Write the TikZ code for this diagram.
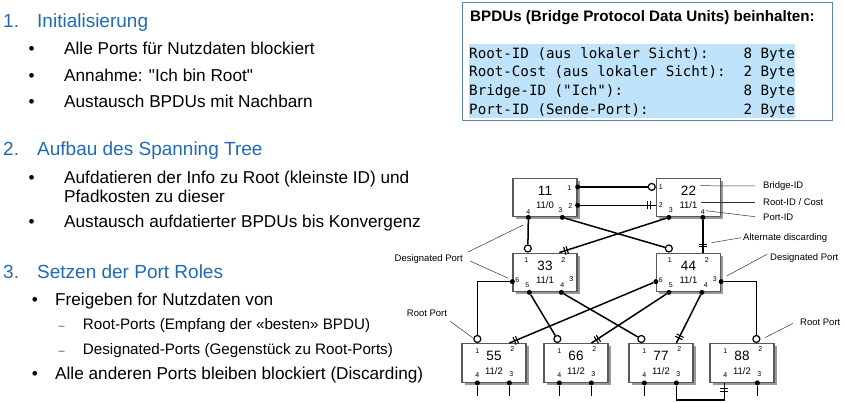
\documentclass[tikz,border=0pt]{standalone}
\usepackage{fontspec}
\setmainfont{Liberation Sans}
\newfontfamily\bpdufont{DejaVu Sans Mono}
\usetikzlibrary{calc,shadows,decorations.markings}
\definecolor{headblue}{RGB}{31,106,178}
\definecolor{boxframe}{RGB}{96,132,172}
\definecolor{rowblue}{RGB}{190,227,251}
\def\fs#1{\fontsize{#1}{#1}\selectfont}

\tikzset{
	head/.style={anchor=base west, inner sep=0pt, font=\fs{19}, text=headblue},
	txt/.style={anchor=base west, inner sep=0pt, font=\fs{17.2}},
	sub/.style={anchor=base west, inner sep=0pt, font=\fs{15.2}},
	blt/.style={anchor=base, inner sep=0pt, font=\fs{17.2}},
	swbox/.style={draw=black!65, line width=1.3pt, fill=white, minimum width=64pt, minimum height=38.5pt, inner sep=0pt,
		drop shadow={shadow xshift=2.5pt, shadow yshift=-2.5pt, fill=black!40, opacity=1}},
	swid/.style={inner sep=0pt, font=\fs{13.5}, text height=0.72em, text depth=0pt},
	swcost/.style={inner sep=0pt, font=\fs{9.5}, text height=0.72em, text depth=0pt},
	portno/.style={inner sep=0pt, font=\fs{7}, text height=0.72em, text depth=0pt},
	dport/.style={circle, fill=black, inner sep=0pt, minimum size=5pt},
	rport/.style={circle, draw=black, fill=white, line width=1.2pt, inner sep=0pt, minimum size=7pt},
	link/.style={line width=1.5pt},
	blocked/.style={postaction={decorate}, decoration={markings, mark=at position -7pt with
		{\draw[line width=1.1pt] (-1.3pt,-4pt) -- (-1.3pt,4pt) (1.3pt,-4pt) -- (1.3pt,4pt);}}},
	note/.style={inner sep=0pt, font=\fs{9.5}},
	noteline/.style={line width=0.5pt, black!80},
}

\begin{document}
\begin{tikzpicture}[x=1pt, y=-1pt]
		%%%%% START %%%%%
		\useasboundingbox (0,0) rectangle (844,403);
		
		% text on the left
		\node[head] (n1) at (3,27.5) {1.};
		\node[head] (h1) at (37,27.5) {Initialisierung};
		\node[blt] (b1a) at (31.7,55) {•};
		\node[txt] (t1a) at (64,55) {Alle Ports für Nutzdaten blockiert};
		\node[blt] (b1b) at (31.7,81.5) {•};
		\node[txt] (t1b) at (64,81.5) {Annahme: \textquotedbl Ich bin Root\textquotedbl};
		\node[blt] (b1c) at (31.7,107.5) {•};
		\node[txt] (t1c) at (64,107.5) {Austausch BPDUs mit Nachbarn};
		
		\node[head] (n2) at (3,156) {2.};
		\node[head] (h2) at (37,156) {Aufbau des Spanning Tree};
		\node[blt] (b2a) at (31.7,183.5) {•};
		\node[txt] (t2a) at (64,183.5) {Aufdatieren der Info zu Root (kleinste ID) und};
		\node[txt] (t2b) at (64,202.5) {Pfadkosten zu dieser};
		\node[blt] (b2c) at (31.7,227.7) {•};
		\node[txt] (t2c) at (64,227.7) {Austausch aufdatierter BPDUs bis Konvergenz};
		
		\node[head] (n3) at (3,278.3) {3.};
		\node[head] (h3) at (37,278.3) {Setzen der Port Roles};
		\node[blt] (b3a) at (35,305.7) {•};
		\node[txt] (t3a) at (55,305.7) {Freigeben for Nutzdaten von};
		\node[blt, font=\fs{11}, text=black!70] (d3a) at (61.7,330) {–};
		\node[sub] (t3b) at (82.7,330) {Root-Ports (Empfang der «besten» BPDU)};
		\node[blt, font=\fs{11}, text=black!70] (d3b) at (61.7,354.3) {–};
		\node[sub] (t3c) at (82.7,354.3) {Designated-Ports (Gegenstück zu Root-Ports)};
		\node[blt] (b3d) at (35,380) {•};
		\node[txt] (t3d) at (55,380) {Alle anderen Ports bleiben blockiert (Discarding)};
		
		% BPDU contents
		\draw[boxframe, line width=1pt, fill=white] (462,3) rectangle (832,121);
		\node[anchor=base west, inner sep=0pt, font=\fs{15.2}\bfseries] (bpdu) at (470,21.7) {BPDUs (Bridge Protocol Data Units) beinhalten:};
		\foreach \i/\lab/\val in {0/{Root-ID (aus lokaler Sicht):}/8, 1/{Root-Cost (aus lokaler Sicht):}/2,
				2/{Bridge-ID ("Ich"):}/8, 3/{Port-ID (Sende-Port):}/2} {
			\fill[rowblue] (469,{44+18.5*\i}) rectangle (795,{62.5+18.5*\i});
			\node[anchor=base west, inner sep=0pt, font=\fs{14.2}\bpdufont] (f\i) at (469,{58.3+18.6*\i}) {\lab};
			\node[anchor=base east, inner sep=0pt, font=\fs{14.2}\bpdufont] (v\i) at (795,{58.3+18.6*\i}) {\val\ Byte};
		}
		
		% switches
		\node[swbox] (s11) at (545,197.5) {};
		\node[swbox] (s22) at (688.5,197.5) {};
		\node[swbox] (s33) at (545,272.5) {};
		\node[swbox] (s44) at (688.5,272.5) {};
		\node[swbox] (s55) at (494,363) {};
		\node[swbox] (s66) at (576,363) {};
		\node[swbox] (s77) at (661,363) {};
		\node[swbox] (s88) at (742,363) {};
		
		\foreach \s/\c in {11/0, 22/1, 33/1, 44/1, 55/2, 66/2, 77/2, 88/2} {
			\node[swid] (id\s) at ($(s\s)+(0,-6)$) {\s};
			\node[swcost] (cost\s) at ($(s\s)+(0,7.5)$) {11/\c};
		}
		
		% port numbers
		\foreach \n/\dx/\dy in {1/57/9, 2/58/27, 3/48/31, 4/16/33}
			\node[portno] (n11p\n) at ($(s11.north west)+(\dx,\dy)$) {\n};
		\foreach \n/\dx/\dy in {1/5/8, 2/5/26, 3/15/31, 4/47/33}
			\node[portno] (n22p\n) at ($(s22.north west)+(\dx,\dy)$) {\n};
		\foreach \n/\dx/\dy in {1/14/6, 2/51/6, 3/59/25, 4/50/31, 5/15/31, 6/5/26} {
			\node[portno] (n33p\n) at ($(s33.north west)+(\dx,\dy)$) {\n};
			\node[portno] (n44p\n) at ($(s44.north west)+(\dx,\dy)$) {\n};
		}
		\foreach \s in {55,66,77,88}
			\foreach \n/\dx/\dy in {1/16/7, 2/51/5, 3/50/30, 4/16/31}
				\node[portno] (n\s p\n) at ($(s\s.north west)+(\dx,\dy)$) {\n};
		
		% ports
		\node[dport] (s11p1) at ($(s11.north east)+(0,9.3)$) {};
		\node[dport] (s11p2) at ($(s11.north east)+(0,27.7)$) {};
		\node[dport] (s11p3) at ($(s11.south west)+(50,0)$) {};
		\node[dport] (s11p4) at ($(s11.south west)+(16,0)$) {};
		\node[rport, anchor=east] (s22p1) at ($(s22.north west)+(0,9.3)$) {};
		\coordinate (s22p2) at ($(s22.north west)+(0,27.7)$);
		\node[dport] (s22p3) at ($(s22.south west)+(13,0)$) {};
		\node[dport] (s22p4) at ($(s22.south west)+(47,0)$) {};
		
		\node[rport, anchor=south] (s33p1) at ($(s33.north west)+(15.5,0)$) {};
		\coordinate (s33p2) at ($(s33.north west)+(47,0)$);
		\node[dport] (s33p4) at ($(s33.south west)+(49,0)$) {};
		\node[dport] (s33p5) at ($(s33.south west)+(17,0)$) {};
		\node[dport] (s33p6) at ($(s33.north west)+(0,29)$) {};
		\node[rport, anchor=south] (s44p1) at ($(s44.north west)+(13,0)$) {};
		\coordinate (s44p2) at ($(s44.north west)+(47,0)$);
		\node[dport] (s44p3) at ($(s44.north east)+(0,29)$) {};
		\node[dport] (s44p4) at ($(s44.south west)+(46,0)$) {};
		\node[dport] (s44p5) at ($(s44.south west)+(13,0)$) {};
		\node[dport] (s44p6) at ($(s44.north west)+(0,29)$) {};
		
		\node[rport, anchor=south] (s55p1) at ($(s55.north west)+(16,0)$) {};
		\node[rport, anchor=south] (s66p1) at ($(s66.north west)+(14,0)$) {};
		\node[rport, anchor=south] (s77p1) at ($(s77.north west)+(13,0)$) {};
		\node[rport, anchor=south] (s88p2) at ($(s88.north west)+(47,0)$) {};
		\foreach \s in {55,66,77}
			\coordinate (s\s p2) at ($(s\s.north west)+(48,0)$);
		\foreach \s in {55,66,77,88}
			\node[dport] (s\s p3) at ($(s\s.south west)+(48,0)$) {};
		\foreach \s in {55,66,77}
			\node[dport] (s\s p4) at ($(s\s.south west)+(16,0)$) {};
		\coordinate (s88p4) at ($(s88.south west)+(15,0)$);
		
		% links
		\draw[link] (s11p1) -- (s22p1);
		\draw[link, blocked] (s11p2) -- (s22p2);
		\draw[link] (s11p3) -- (s44p1);
		\draw[link] (s11p4) -- (s33p1);
		\draw[link, blocked] (s22p3) -- (s33p2);
		\draw[link, blocked] (s22p4) -- (s44p2);
		\draw[link] (s33p6) -| (s55p1);
		\draw[link] (s33p5) -- (s66p1);
		\draw[link] (s33p4) -- (s77p1);
		\draw[link, blocked] (s44p6) -- (s55p2);
		\draw[link, blocked] (s44p5) -- (s66p2);
		\draw[link, blocked] (s44p4) -- (s77p2);
		\draw[link] (s44p3) -| (s88p2);
		\draw[link, blocked] (s77p3) -- ++(0,17) -| (s88p4);
		\foreach \p in {s55p4, s55p3, s66p4, s66p3, s77p4, s88p3}
			\draw[link] (\p) -- ++(0,13);
		
		% annotations
		\node[note, anchor=west] (lbridge) at (763,186) {Bridge-ID};
		\node[note, anchor=west] (lcost) at (763,202.3) {Root-ID / Cost};
		\node[note, anchor=west] (lport) at (763,217.7) {Port-ID};
		\node[note, anchor=west] (lalt) at (743,237.7) {Alternate discarding};
		\node[note, anchor=west] (ldesR) at (770,258.3) {Designated Port};
		\node[note, anchor=east] (ldesL) at (463,259) {Designated Port};
		\node[note, anchor=west] (lrootL) at (406.7,313.3) {Root Port};
		\node[note, anchor=west] (lrootR) at (800,322.3) {Root Port};
		
		\coordinate (abridge) at (700.7,185.7);
		\coordinate (acost) at (700.7,202.3);
		\coordinate (aport) at (706,210.7);
		\coordinate (aalt) at (711.7,242.7);
		\coordinate (adesR) at (726.7,276);
		\coordinate (adesLa) at (523.3,225);
		\coordinate (adesLb) at (508.3,278.3);
		\coordinate (arootL) at (473,338);
		\coordinate (arootR) at (765,337.7);
		
		\draw[noteline] (abridge) -- ([xshift=-8pt]lbridge.west);
		\draw[noteline] (acost) -- ([xshift=-8pt]lcost.west);
		\draw[noteline] (aport) -- ([xshift=-8pt, yshift=1pt]lport.west);
		\draw[noteline] (aalt) -- ([xshift=-2pt]lalt.west);
		\draw[noteline] (adesR) -- ([xshift=-3pt, yshift=4pt]ldesR.west);
		\draw[noteline] ([xshift=5pt, yshift=7pt]ldesL.east) -- (adesLa);
		\draw[noteline] ([xshift=7pt, yshift=-2pt]ldesL.east) -- (adesLb);
		\draw[noteline] ([xshift=3pt, yshift=-8pt]lrootL.east) -- (arootL);
		\draw[noteline] ([xshift=-7pt, yshift=-1pt]lrootR.west) -- (arootR);
		
		%%%%% END %%%%%
	\end{tikzpicture}
\end{document}
